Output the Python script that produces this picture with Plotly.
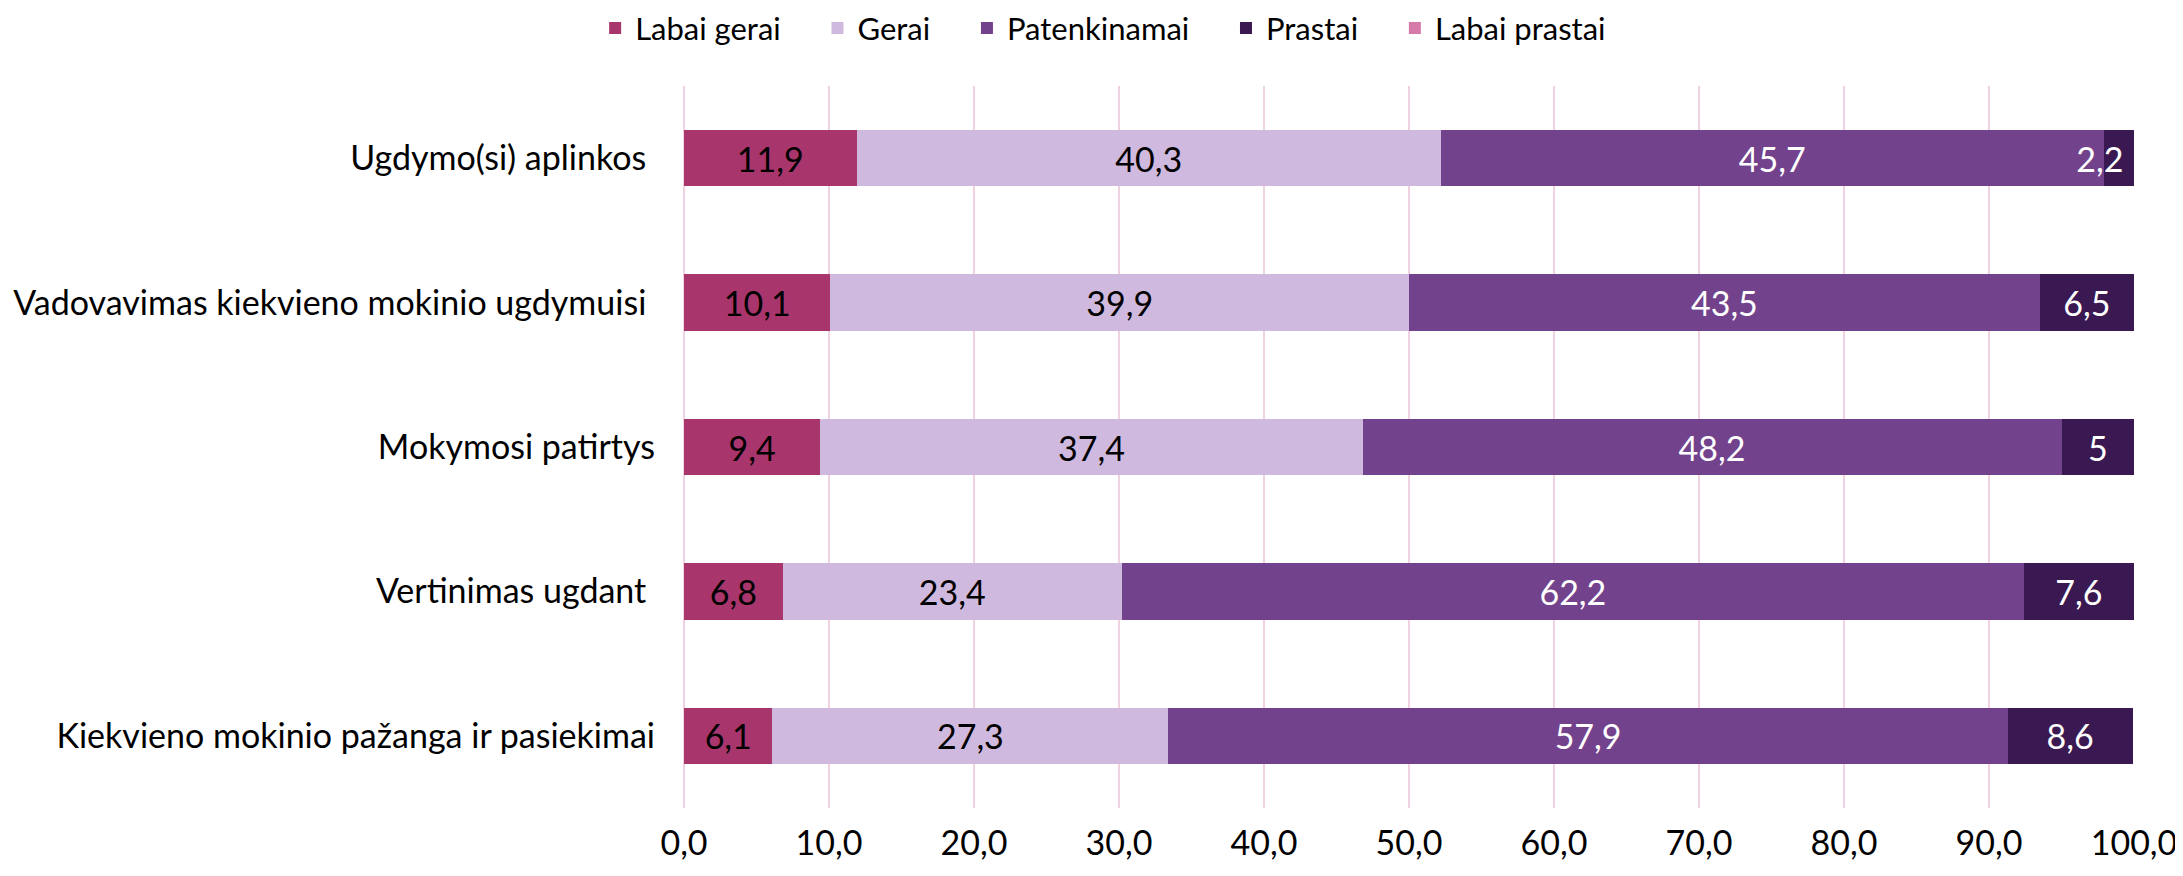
import plotly.graph_objects as go

categories = [
    "Ugdymo(si) aplinkos\u00a0",
    "Vadovavimas kiekvieno mokinio ugdymuisi\u00a0",
    "Mokymosi patirtys",
    "Vertinimas ugdant\u00a0",
    "Kiekvieno mokinio pažanga ir pasiekimai",
]
series_names = ["Labai gerai", "Gerai", "Patenkinamai", "Prastai", "Labai prastai"]
labai_gerai = [11.9, 10.1, 9.4, 6.8, 6.1]
gerai = [40.3, 39.9, 37.4, 23.4, 27.3]
patenkinamai = [45.7, 43.5, 48.2, 62.2, 57.9]
prastai = [2.2, 6.5, 5.0, 7.6, 8.6]
labai_prastai = [0, 0, 0, 0, 0]
tick_vals = [0, 10, 20, 30, 40, 50, 60, 70, 80, 90, 100]

colors = ["#A8366C", "#D0B9DE", "#73428D", "#3A1851", "#D67AA9"]
text_colors = ["#000000", "#000000", "#FFFFFF", "#FFFFFF", "#FFFFFF"]
values = [labai_gerai, gerai, patenkinamai, prastai, labai_prastai]

FONT = "Lato, 'Open Sans', sans-serif"
LEGEND_PAD = "\u00a0" * 4


def fmt(v, small_pad=False):
    s = f"{v:g}".replace(".", ",")
    # very narrow segment: shift the overflowing label left (as in the source)
    if small_pad:
        s += "\u2007\u2007"
    return s


fig = go.Figure()
for i, (name, vals) in enumerate(zip(series_names, values)):
    show_text = i < 4
    texts = []
    for v in vals:
        if show_text and v > 0:
            texts.append(fmt(v, small_pad=(v < 3)))
        else:
            texts.append("")
    fig.add_trace(go.Bar(
        y=categories,
        x=vals,
        name=name + LEGEND_PAD,
        orientation="h",
        marker=dict(color=colors[i], line=dict(width=0)),
        text=texts,
        textposition="inside",
        insidetextanchor="middle",
        constraintext="none",
        textangle=0,
        textfont=dict(color=text_colors[i], size=34, family=FONT),
        hovertemplate=name + ": %{x}<extra></extra>",
    ))

fig.update_layout(
    barmode="stack",
    bargap=0.61,
    width=2183,
    height=876,
    paper_bgcolor="white",
    plot_bgcolor="white",
    margin=dict(l=676, r=57, t=78, b=76, autoexpand=False),
    font=dict(family=FONT, size=34, color="#000000"),
    separators=", ",
    legend=dict(
        orientation="h",
        xref="container", yref="paper",
        x=0.509, xanchor="center",
        y=1.08, yanchor="middle",
        font=dict(size=31, family=FONT),
        traceorder="normal",
        itemwidth=30,
    ),
    xaxis=dict(
        range=[0, 100],
        tickvals=tick_vals,
        ticktext=[f"{v:.1f}".replace(".", ",") for v in tick_vals],
        showgrid=True,
        gridcolor="#F0D3E2",
        gridwidth=1.5,
        zeroline=True,
        zerolinecolor="#F0D3E2",
        zerolinewidth=1.5,
        showline=False,
        ticks="",
        ticklabelstandoff=12,
        tickfont=dict(size=34, family=FONT),
        fixedrange=True,
    ),
    yaxis=dict(
        categoryorder="array",
        categoryarray=categories,
        autorange="reversed",
        showgrid=False,
        showline=False,
        ticks="",
        ticklabelstandoff=28,
        tickfont=dict(size=34, family=FONT),
        fixedrange=True,
    ),
)

fig.write_html("out.html")
